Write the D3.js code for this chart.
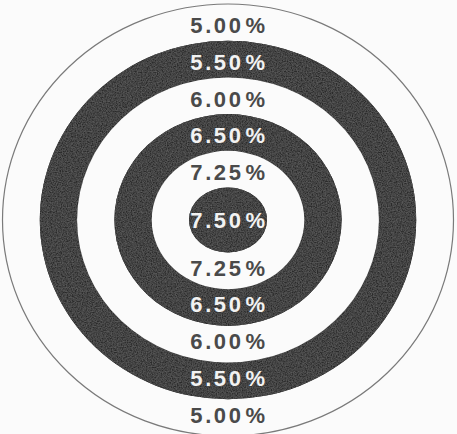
<!DOCTYPE html>
<html>
<head>
<meta charset="utf-8">
<script src="https://cdn.jsdelivr.net/npm/d3@7"></script>
<style>
  html, body { margin: 0; padding: 0; background: #fbfbfb; }
  svg { display: block; }
</style>
</head>
<body>
<div id="target"></div>
<script>
// 各环利率（由外到内）
var rates = [5.00, 5.50, 6.00, 6.50, 7.25, 7.50];
var ringIndex = d3.range(rates.length);

var width = 457, height = 434;
var cx = 228, cy = 220;

// 环半径比例尺（横向、纵向略有不同）
var rx = d3.scaleLinear().domain([0, rates.length - 1]).range([225.5, 39]);
var ry = d3.scaleLinear().domain([0, rates.length - 1]).range([216, 32.5]);

var fmt = function(v) { return d3.format('.2f')(v); };

var svg = d3.select('#target')
  .append('svg')
  .attr('width', width)
  .attr('height', height);

svg.append('rect')
  .attr('width', width)
  .attr('height', height)
  .attr('fill', '#fbfbfb');

// 纸面颗粒
var defs = svg.append('defs');
var grain = defs.append('filter').attr('id', 'grain')
  .attr('x', 0).attr('y', 0).attr('width', 1).attr('height', 1);
grain.append('feTurbulence')
  .attr('type', 'fractalNoise')
  .attr('baseFrequency', 0.8)
  .attr('numOctaves', 2)
  .attr('seed', 3)
  .attr('result', 'noise');
grain.append('feColorMatrix')
  .attr('in', 'noise')
  .attr('type', 'matrix')
  .attr('values', '0 0 0 0 0.5  0 0 0 0 0.5  0 0 0 0 0.5  0 0 0 0.3 -0.08')
  .attr('result', 'speck');
grain.append('feComposite')
  .attr('in', 'speck')
  .attr('in2', 'SourceGraphic')
  .attr('operator', 'atop')
  .attr('result', 'sp');
grain.append('feMerge').call(function(m) {
  m.append('feMergeNode').attr('in', 'SourceGraphic');
  m.append('feMergeNode').attr('in', 'sp');
});

var g = svg.append('g');

// 同心环
g.selectAll('ellipse')
  .data(ringIndex)
  .enter()
  .append('ellipse')
  .attr('cx', cx)
  .attr('cy', cy)
  .attr('rx', function(i) { return rx(i); })
  .attr('ry', function(i) { return ry(i); })
  .attr('fill', function(i) { return i % 2 ? '#2c2c2c' : '#fbfbfb'; })
  .attr('stroke', function(i) { return i === 0 ? '#7a7a7a' : 'none'; })
  .attr('stroke-width', 1.2)
  .attr('filter', function(i) { return i % 2 ? 'url(#grain)' : null; });

// 标签位置：上下各一个，中心一个（略向圆心收）
var labels = [];
ringIndex.forEach(function(i) {
  if (i < rates.length - 1) {
    var mid = (ry(i) + ry(i + 1)) / 2 - 3;
    labels.push({ i: i, y: cy - mid });
    labels.push({ i: i, y: cy + mid });
  } else {
    labels.push({ i: i, y: cy });
  }
});

var text = g.selectAll('text.lbl')
  .data(labels)
  .enter()
  .append('text')
  .attr('class', 'lbl')
  .attr('x', cx + 1)
  .attr('y', function(d) { return d.y; })
  .attr('dy', '0.36em')
  .attr('text-anchor', 'middle')
  .attr('style', 'font-family:"Liberation Sans",Arial,sans-serif;font-size:22px;font-weight:bold;letter-spacing:2.6px;')
  .attr('fill', function(d) { return d.i % 2 ? '#f2f2f2' : '#4a4a4a'; });

text.append('tspan').text(function(d) { return fmt(rates[d.i]); });
text.append('tspan').attr('dx', 2).text('%');
</script>
</body>
</html>
